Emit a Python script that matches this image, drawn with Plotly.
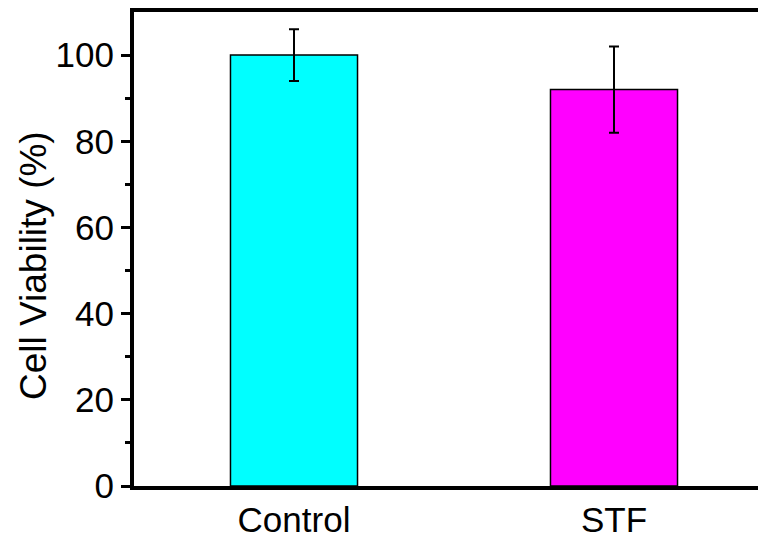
import plotly.graph_objects as go

categories = ["Control", "STF"]
viability = [100, 92]
errors = [6, 10]
colors = ["#00FFFF", "#FF00FF"]

fig = go.Figure()
fig.add_trace(go.Bar(
    x=[0, 1], y=viability,
    width=0.397,
    marker=dict(color=colors, line=dict(color="black", width=1.5)),
    error_y=dict(type="data", array=errors, visible=True, color="black", thickness=2, width=5),
))

font = "Liberation Sans, Arial, sans-serif"
# page body has an 8px default margin; the figure is sized to fill the rest of the window
fig.update_layout(
    width=758, height=534,
    margin=dict(l=126, r=0, t=4, b=56),
    paper_bgcolor="white", plot_bgcolor="white",
    showlegend=False,
    font=dict(family=font, color="black"),
    xaxis=dict(
        range=[-0.5, 1.475], automargin=False,
        tickmode="array", tickvals=[0, 1], ticktext=categories,
        showline=True, linecolor="black", linewidth=4, mirror=True,
        ticks="", showgrid=False, zeroline=False,
        tickfont=dict(size=35, family=font, color="black"),
    ),
    yaxis=dict(
        range=[0, 110], automargin=False,
        tickmode="array", tickvals=[0, 20, 40, 60, 80, 100],
        showline=True, linecolor="black", linewidth=4, mirror=False,
        ticks="outside", ticklen=9, tickwidth=3, tickcolor="black",
        minor=dict(tickmode="array", tickvals=[10, 30, 50, 70, 90], ticks="outside", ticklen=5, tickwidth=3, tickcolor="black"),
        showgrid=False, zeroline=False,
        tickfont=dict(size=35, family=font, color="black"),
    ),
    annotations=[dict(
        text="Cell Viability (%)", textangle=-90,
        xref="paper", yref="paper", x=-0.16, y=0.466,
        xanchor="center", yanchor="middle", showarrow=False,
        font=dict(size=37, family=font, color="black"),
    )],
)

fig.write_html("out.html")
